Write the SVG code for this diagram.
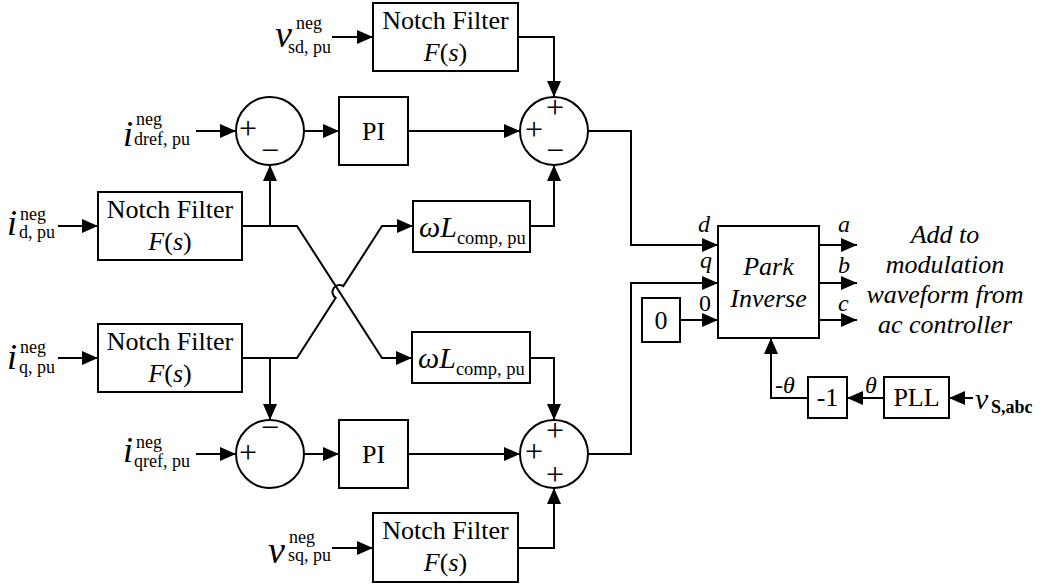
<svg xmlns="http://www.w3.org/2000/svg" width="1048" height="586" viewBox="0 0 1048 586">
<defs>
<style>
.ln{fill:none;stroke:#000;stroke-width:2}
.bx{fill:#fff;stroke:#000;stroke-width:2}
text{font-family:"Liberation Serif","Times New Roman",serif;fill:#000}
.t{font-size:26px}
.c{text-anchor:middle}
.it{font-style:italic}
.var{font-size:38px;font-style:italic}
.vi{font-size:36px;font-style:italic}
.sup{font-size:18px}
.sg{font-size:32px;text-anchor:middle}
</style>
<marker id="ah" markerUnits="userSpaceOnUse" markerWidth="16" markerHeight="14" refX="16" refY="7" orient="auto">
<path d="M0,0 L16,7 L0,14 z" fill="#000"/>
</marker>
</defs>
<rect width="1048" height="586" fill="#fff"/>

<g id="connectors" class="ln" marker-end="url(#ah)">
<path d="M332,37 L373,37"/>
<path d="M518,37 L554,37 L554,97"/>
<path d="M196,131 L236,131"/>
<path d="M304,131 L339,131"/>
<path d="M408,131 L520,131"/>
<path d="M58,226 L98,226"/>
<path d="M242,226 L297,226 L382,358 L412,358"/>
<path d="M270,226 L270,165"/>
<path d="M58,358 L98,358"/>
<path d="M242,358 L297,358 L335.7,297.9 A7,7 0 0 1 343.3,286.1 L382,226 L413,226"/>
<path d="M270,358 L270,420"/>
<path d="M530,226 L554,226 L554,165"/>
<path d="M588,131 L631,131 L631,245 L718,245"/>
<path d="M196,454 L236,454"/>
<path d="M304,454 L339,454"/>
<path d="M408,454 L520,454"/>
<path d="M530,358 L554,358 L554,420"/>
<path d="M332,548 L373,548"/>
<path d="M518,548 L554,548 L554,488"/>
<path d="M588,454 L631,454 L631,283 L718,283"/>
<path d="M680,320 L718,320"/>
<path d="M819,245 L857,245"/>
<path d="M819,283 L857,283"/>
<path d="M819,320 L857,320"/>
<path d="M973,398 L949,398"/>
<path d="M884,398 L847,398"/>
<path d="M808,398 L771,398 L771,338"/>
</g>

<g id="notch_sd">
<rect class="bx" x="373" y="3" width="145" height="68"/>
<text class="t c" x="445.5" y="29">Notch Filter</text>
<text class="t c" x="445.5" y="61"><tspan class="it">F</tspan>(<tspan class="it">s</tspan>)</text>
</g>
<g id="notch_d">
<rect class="bx" x="98" y="192" width="144" height="68"/>
<text class="t c" x="170" y="218">Notch Filter</text>
<text class="t c" x="170" y="250"><tspan class="it">F</tspan>(<tspan class="it">s</tspan>)</text>
</g>
<g id="notch_q">
<rect class="bx" x="98" y="324" width="144" height="68"/>
<text class="t c" x="170" y="350">Notch Filter</text>
<text class="t c" x="170" y="382"><tspan class="it">F</tspan>(<tspan class="it">s</tspan>)</text>
</g>
<g id="notch_sq">
<rect class="bx" x="373" y="513" width="145" height="69"/>
<text class="t c" x="445.5" y="539">Notch Filter</text>
<text class="t c" x="445.5" y="571"><tspan class="it">F</tspan>(<tspan class="it">s</tspan>)</text>
</g>

<g id="sum1">
<circle class="bx" cx="270" cy="131" r="34"/>
<text class="sg" x="248" y="139">+</text>
<text class="sg" x="270" y="161">−</text>
</g>
<g id="pi1">
<rect class="bx" x="339" y="97" width="69" height="68"/>
<text class="t c" x="373.5" y="140">PI</text>
</g>
<g id="sum2">
<circle class="bx" cx="554" cy="131" r="34"/>
<text class="sg" x="555" y="118">+</text>
<text class="sg" x="534" y="140">+</text>
<text class="sg" x="555" y="161">−</text>
</g>
<g id="wl_top">
<rect class="bx" x="413" y="201" width="117" height="51"/>
<text x="419" y="237"><tspan class="it" font-size="30">ωL</tspan><tspan font-size="18.5" dy="7">comp, pu</tspan></text>
</g>
<g id="wl_bot">
<rect class="bx" x="412" y="332" width="118" height="51"/>
<text x="418" y="368"><tspan class="it" font-size="30">ωL</tspan><tspan font-size="18.5" dy="7">comp, pu</tspan></text>
</g>
<g id="sum3">
<circle class="bx" cx="270" cy="454" r="34"/>
<text class="sg" x="248" y="463">+</text>
<text class="sg" x="270" y="438">−</text>
</g>
<g id="pi2">
<rect class="bx" x="339" y="420" width="69" height="68"/>
<text class="t c" x="373.5" y="463">PI</text>
</g>
<g id="sum4">
<circle class="bx" cx="554" cy="454" r="34"/>
<text class="sg" x="555" y="441">+</text>
<text class="sg" x="534" y="462">+</text>
<text class="sg" x="555" y="485">+</text>
</g>

<g id="park">
<rect class="bx" x="718" y="226" width="101" height="112"/>
<text class="t c it" x="768.5" y="275">Park</text>
<text class="t c it" x="768.5" y="307">Inverse</text>
<text class="it" font-size="24" x="698" y="232">d</text>
<text class="it" font-size="24" x="700" y="268">q</text>
<text font-size="24" x="699" y="311">0</text>
<text class="it" font-size="24" x="838" y="232">a</text>
<text class="it" font-size="24" x="838" y="273">b</text>
<text class="it" font-size="24" x="838" y="311">c</text>
</g>
<g id="zero">
<rect class="bx" x="642" y="298" width="38" height="44"/>
<text class="t c" x="661" y="329">0</text>
</g>
<g id="neg1">
<rect class="bx" x="808" y="377" width="39" height="41"/>
<text class="t c" x="827.5" y="406">-1</text>
<text font-size="24" x="775" y="393">-<tspan class="it">θ</tspan></text>
</g>
<g id="pll">
<rect class="bx" x="884" y="377" width="65" height="41"/>
<text class="t c" x="916.5" y="406">PLL</text>
<text class="it" font-size="24" x="865" y="393">θ</text>
</g>
<g id="output_note">
<text class="t c it" x="945" y="243">Add to</text>
<text class="t c it" x="945" y="273">modulation</text>
<text class="t c it" x="945" y="303">waveform from</text>
<text class="t c it" x="945" y="333">ac controller</text>
</g>

<g id="labels">
<text class="var" x="275" y="47">v</text>
<text class="sup" x="296" y="29">neg</text>
<text class="sup" x="288" y="53">sd, pu</text>

<text class="vi" x="123" y="146">i</text>
<text class="sup" x="136" y="125">neg</text>
<text class="sup" x="134" y="145">dref, pu</text>

<text class="vi" x="7" y="235">i</text>
<text class="sup" x="20" y="220">neg</text>
<text class="sup" x="19" y="238">d, pu</text>

<text class="vi" x="7" y="369">i</text>
<text class="sup" x="20" y="353">neg</text>
<text class="sup" x="19" y="373">q, pu</text>

<text class="vi" x="123" y="462">i</text>
<text class="sup" x="136" y="448">neg</text>
<text class="sup" x="134" y="467">qref, pu</text>

<text class="var" x="268" y="563">v</text>
<text class="sup" x="289" y="543">neg</text>
<text class="sup" x="288" y="561">sq, pu</text>

<text class="it" font-size="30" x="975" y="409">v</text>
<text class="sup" font-weight="bold" x="991" y="413">S,abc</text>
</g>
</svg>
